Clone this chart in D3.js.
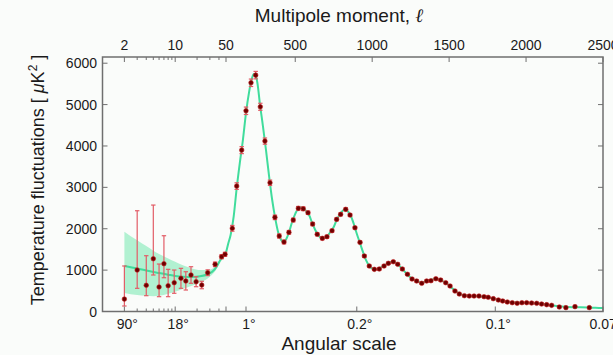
<!DOCTYPE html>
<html><head><meta charset="utf-8">
<script src="https://cdn.jsdelivr.net/npm/d3@7"></script>
<style>
html,body{margin:0;padding:0;background:#fafcfa;}
svg{display:block;font-family:"Liberation Sans",Arial,sans-serif;}
</style></head>
<body>
<svg id="c" width="613" height="355"></svg>
<script>
// ---------- data ----------
const lowEll   = [2,3,4,5,6,7,8,9.7,12,14,16.5,19.4,23.2,28,35.4,43.5,48.5];
const lowD     = [300,1002,633,1275,592,1155,623,696,802,737,882,720,640,937,1140,1324,1382];
const lowErrLo = [167,442,251,393,234,339,265,256,242,218,200,121,90,70,55,50,50];
const lowErrHi = [800,1433,715,1297,555,676,396,306,241,224,200,121,90,70,55,50,50];

const highEll = [91,119.5,152,180,212.5,243,273,303,336,368,396,427,459,487,520,552,583,613,643,676,706,739,769,795,828,856,888,921,949,981,1014,1046,1077,1105,1137,1166,1196,1229,1259,1289,1322,1354,1382,1414,1445,1478,1506,1538,1566,1599,1631,1662,1694,1727,1754,1787,1820,1848,1878,1910,1942,1973,2004,2036,2069,2101,2134,2166,2216,2259,2318,2411];
const highD   = [2010,3030,3900,4850,5527,5712,4947,4118,3111,2275,1824,1679,1913,2210,2493,2483,2387,2113,1865,1768,1807,1952,2227,2348,2469,2331,2024,1671,1341,1099,1019,1027,1099,1164,1203,1140,1027,899,785,737,681,737,744,792,761,696,616,495,423,382,374,374,374,358,343,310,278,254,229,213,198,213,213,205,198,181,165,149,109,93,117,93];
const highErr = [70,80,85,90,90,90,85,75,65,55,50,45,45,45,45,45,40,40,35,35,35,35,35,35,35,35,30,30,30,25,25,25,25,25,25,25,25,25,25,25,25,25,25,25,25,25,25,20,20,20,20,20,20,20,20,20,20,20,20,20,20,20,20,20,20,20,20,20,20,20,20,20];

const thEll = [2,3,4,5,6,8,10,13,17,22,28,35,42,50,65,80,100,120,140,160,180,200,215,230,240,255,270,290,310,330,350,370,390,410,425,440,460,480,500,520,540,555,570,590,610,630,650,670,690,710,730,750,770,790,810,825,840,860,880,900,920,940,960,980,1000,1020,1040,1060,1080,1100,1120,1140,1160,1180,1200,1220,1240,1260,1280,1300,1320,1340,1360,1380,1400,1420,1440,1460,1480,1500,1520,1540,1560,1580,1600,1650,1700,1750,1800,1850,1900,1950,2000,2050,2100,2150,2200,2250,2300,2350,2400,2450,2500];
const thD   = [1100,1040,990,955,930,890,860,840,835,850,900,1020,1250,1430,1650,1850,2300,3000,3600,4150,4800,5300,5580,5740,5740,5500,5030,4480,3900,3270,2700,2250,1900,1720,1680,1740,1920,2170,2360,2490,2520,2490,2430,2330,2140,1970,1840,1780,1785,1830,1930,2040,2220,2350,2440,2460,2430,2320,2120,1880,1660,1440,1240,1110,1040,1020,1035,1070,1110,1160,1195,1200,1165,1090,1010,930,850,790,745,715,705,715,740,765,780,780,760,730,690,630,560,500,445,410,385,370,365,345,295,255,225,210,205,200,185,160,135,115,105,100,95,90,85];

const bandEll = [2,3,4,5,6,8,10,13,17,22,28,35,42,50];
const bandHi  = [1930,1720,1580,1470,1390,1280,1200,1110,1040,1000,1000,1080,1280,1470];
const bandLo  = [450,400,380,370,380,430,480,550,620,700,800,960,1190,1400];

const yTicks = [0,1000,2000,3000,4000,5000,6000];
const topMajor = [2,10,50,500,1000,1500,2000,2500];
const minorEll = [3,4,5,6,7,8,9,20,30,40];
const bottomEll = [2,10,180,900,1800,2500];
const bottomLabels = ["90°","18°","1°","0.2°","0.1°","0.07°"];

// ---------- scales ----------
const L=102.5, J=226, R=603, T=57, B=311.5;
const xLog = d3.scaleLog().domain([1,50]).range([L,J]);
const xLin = d3.scaleLinear().domain([50,2500]).range([J,R]);
const X = l => l<=50 ? xLog(l) : xLin(l);
const Y = d3.scaleLinear().domain([0,6150]).range([B,T]);

const svg = d3.select("#c");
const frameCol = "#6f6f6f";

// band
const bandData = bandEll.map((l,i)=>({l,lo:bandLo[i],hi:bandHi[i]}));
svg.append("path").datum(bandData)
  .attr("d", d3.area().x(d=>X(d.l)).y0(d=>Y(d.lo)).y1(d=>Y(d.hi)).curve(d3.curveMonotoneX))
  .attr("fill","#a8f0cc").attr("opacity",0.9);

// theory line
const thData = thEll.map((l,i)=>({l,d:thD[i]}));
svg.append("path").datum(thData)
  .attr("d", d3.line().x(d=>X(d.l)).y(d=>Y(d.d)).curve(d3.curveMonotoneX))
  .attr("fill","none").attr("stroke","#40dc9c").attr("stroke-width",2);

// data points
const pts = lowEll.map((l,i)=>({l,d:lowD[i],lo:lowErrLo[i],hi:lowErrHi[i]}))
  .concat(highEll.map((l,i)=>({l,d:highD[i],lo:highErr[i],hi:highErr[i]})));
const eb = svg.append("g").attr("stroke","#e25c66").attr("stroke-width",1.2);
pts.forEach(p=>{
  const x=X(p.l), y0=Y(p.d-p.lo), y1=Y(p.d+p.hi);
  eb.append("line").attr("x1",x).attr("x2",x).attr("y1",y0).attr("y2",y1);
  eb.append("line").attr("x1",x-2.2).attr("x2",x+2.2).attr("y1",y0).attr("y2",y0);
  eb.append("line").attr("x1",x-2.2).attr("x2",x+2.2).attr("y1",y1).attr("y2",y1);
});
svg.append("g").selectAll("circle").data(pts).join("circle")
  .attr("cx",d=>X(d.l)).attr("cy",d=>Y(d.d)).attr("r",2.3)
  .attr("fill","#6e0000").attr("stroke","#c42222").attr("stroke-width",0.6);

// frame
svg.append("rect").attr("x",L).attr("y",T).attr("width",R-L).attr("height",B-T)
  .attr("fill","none").attr("stroke",frameCol).attr("stroke-width",1.5);

// ticks
const tk = svg.append("g").attr("stroke",frameCol).attr("stroke-width",1);
topMajor.forEach(l=>{
  tk.append("line").attr("x1",X(l)).attr("x2",X(l)).attr("y1",T).attr("y2",T+5);
});
minorEll.forEach(l=>{
  tk.append("line").attr("x1",X(l)).attr("x2",X(l)).attr("y1",T).attr("y2",T+3);
  tk.append("line").attr("x1",X(l)).attr("x2",X(l)).attr("y1",B).attr("y2",B-3);
});
bottomEll.concat([50]).forEach(l=>{
  tk.append("line").attr("x1",X(l)).attr("x2",X(l)).attr("y1",B).attr("y2",B-5);
});
yTicks.forEach(v=>{
  tk.append("line").attr("x1",L).attr("x2",L+5).attr("y1",Y(v)).attr("y2",Y(v));
  tk.append("line").attr("x1",R).attr("x2",R-5).attr("y1",Y(v)).attr("y2",Y(v));
});

// tick labels
const lab = svg.append("g").attr("fill","#1a1a1a").attr("font-size",14);
topMajor.forEach(l=>{
  lab.append("text").attr("x",X(l)).attr("y",50).attr("text-anchor","middle").text(l);
});
bottomEll.forEach((l,i)=>{
  lab.append("text").attr("x",X(l)+3).attr("y",329).attr("text-anchor","middle").text(bottomLabels[i]);
});
yTicks.forEach(v=>{
  lab.append("text").attr("x",97).attr("y",Y(v)+5).attr("text-anchor","end").text(v);
});

// axis titles
svg.append("text").attr("x",339).attr("y",22).attr("text-anchor","middle")
  .attr("font-size",19).attr("fill","#1a1a1a")
  .html('Multipole moment, <tspan font-style="italic" font-family="DejaVu Serif">ℓ</tspan>');
svg.append("text").attr("x",339).attr("y",350).attr("text-anchor","middle")
  .attr("font-size",19).attr("fill","#1a1a1a").text("Angular scale");
svg.append("text").attr("transform","translate(44,180) rotate(-90)").attr("text-anchor","middle")
  .attr("font-size",18).attr("fill","#1a1a1a")
  .html('Temperature fluctuations [ <tspan font-style="italic">μ</tspan>K<tspan dy="-7" font-size="12">2</tspan><tspan dy="7"> ]</tspan>');
</script>
</body></html>
